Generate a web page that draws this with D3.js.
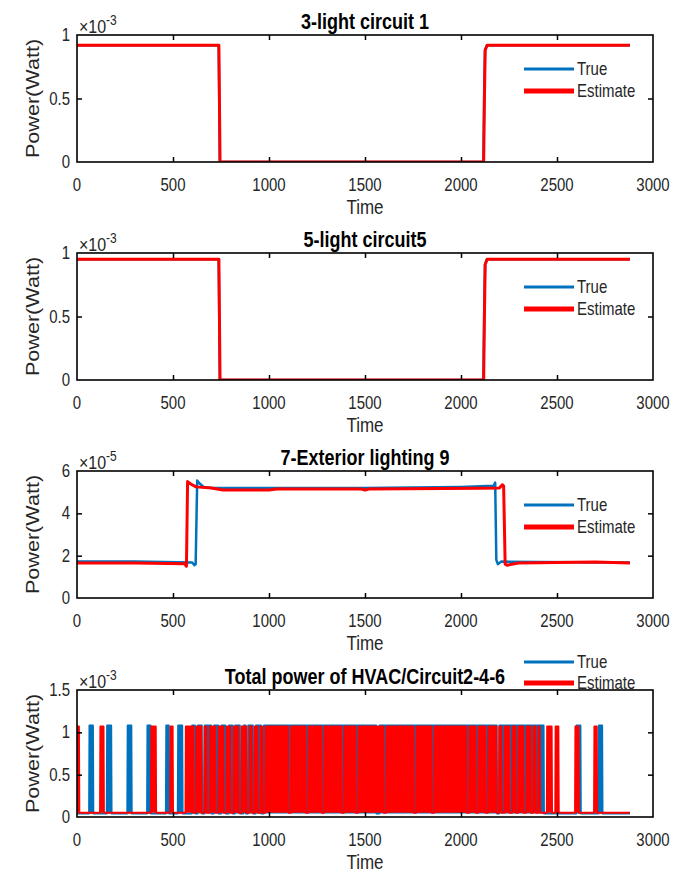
<!DOCTYPE html>
<html>
<head>
<meta charset="utf-8">
<script src="https://cdn.jsdelivr.net/npm/d3@7"></script>
<style>
body {margin:0; background:#fff;}
text {font-family:"Liberation Sans", Arial, sans-serif; fill:#262626;}
</style>
</head>
<body>
<div id="chart"></div>
<script>
// panel setup
var titles = ["3-light circuit 1", "5-light circuit5", "7-Exterior lighting 9", "Total power of HVAC/Circuit2-4-6"];
var exponents = ["-3", "-3", "-5", "-3"];
var yMax = [1, 1, 6, 1.5];
var yTicks = [[0, 0.5, 1], [0, 0.5, 1], [0, 2, 4, 6], [0, 0.5, 1, 1.5]];
var xTicks = [0, 500, 1000, 1500, 2000, 2500, 3000];
var legendNames = ["True", "Estimate"];

// 3-light circuit 1 (x1e-3)
var c1TrueT = [0, 400, 738, 744, 750, 1500, 2117, 2121, 2125, 2135, 2500, 2880];
var c1TrueV = [0.92, 0.92, 0.92, 0.0, 0.0, 0.0, 0.0, 0.55, 0.88, 0.92, 0.92, 0.92];
var c1EstT = [0, 400, 739, 745, 750, 1500, 2118, 2122, 2126, 2136, 2500, 2880];
var c1EstV = [0.92, 0.92, 0.92, 0.0, 0.0, 0.0, 0.0, 0.5, 0.88, 0.92, 0.92, 0.92];

// 5-light circuit5 (x1e-3)
var c5TrueT = [0, 400, 738, 744, 750, 1500, 2117, 2121, 2125, 2135, 2500, 2880];
var c5TrueV = [0.95, 0.95, 0.95, 0.0, 0.0, 0.0, 0.0, 0.55, 0.91, 0.95, 0.95, 0.95];
var c5EstT = [0, 400, 739, 745, 750, 1500, 2118, 2122, 2126, 2136, 2500, 2880];
var c5EstV = [0.95, 0.95, 0.95, 0.0, 0.0, 0.0, 0.0, 0.5, 0.91, 0.95, 0.95, 0.95];

// 7-Exterior lighting 9 (x1e-5)
var c9TrueT = [0, 300, 600, 612, 618, 626, 640, 660, 700, 1000, 1500, 2000, 2170, 2178, 2184, 2192, 2210, 2400, 2880];
var c9TrueV = [1.72, 1.72, 1.68, 1.55, 1.6, 5.55, 5.4, 5.25, 5.2, 5.2, 5.2, 5.25, 5.3, 5.45, 1.8, 1.6, 1.72, 1.7, 1.68];
var c9EstT = [0, 300, 560, 570, 576, 590, 620, 700, 760, 1000, 1040, 1480, 1500, 1520, 2100, 2200, 2215, 2222, 2230, 2240, 2300, 2700, 2880];
var c9EstV = [1.65, 1.65, 1.62, 1.5, 5.5, 5.4, 5.25, 5.2, 5.1, 5.1, 5.15, 5.15, 5.1, 5.15, 5.18, 5.2, 5.35, 5.3, 1.6, 1.55, 1.65, 1.7, 1.65];

// HVAC on-periods [start, end] (x1e-3)
var hvacTrueOn = [[63, 85], [155, 180], [262, 285], [365, 385], [463, 480], [525, 550], [598, 616], [628, 652],
  [664, 700], [712, 738], [750, 775], [790, 812], [822, 850], [866, 880], [890, 918], [930, 960], [972, 1560],
  [1574, 2188], [2198, 2432], [2600, 2624], [2716, 2737]];
var hvacEstOn = [[0, 12], [120, 140], [385, 412], [485, 500], [565, 606], [618, 648], [662, 676], [690, 722],
  [736, 764], [778, 800], [814, 842], [856, 884], [898, 912], [924, 942], [955, 968], [980, 1102], [1114, 1192],
  [1204, 1275], [1287, 1378], [1390, 1452], [1464, 1598], [1610, 1754], [1766, 1848], [1860, 2030], [2042, 2078],
  [2090, 2128], [2140, 2186], [2198, 2212], [2226, 2252], [2266, 2286], [2298, 2326], [2340, 2364], [2376, 2390],
  [2402, 2412], [2447, 2474], [2491, 2509], [2594, 2614], [2693, 2709]];
var hvacTrueLevels = [0.04, 1.08];
var hvacEstLevels = [0.05, 1.07];
var endTime = 2880;

var W = 675, H = 873;
var plotLeft = 77, plotRight = 653, plotH = 127;
var panelTops = [35, 253, 471, 690];
var blue = "#0072BD", red = "#FF0000";

function zip(t, v) {
    var out = [];
    for (var i = 0; i < t.length; i++) out.push([t[i], v[i]]);
    return out;
}

function pulses(iv, lv) {
    var base = lv[0], peak = lv[1], pts = [];
    if (iv[0][0] > 0) pts.push([0, base]);
    iv.forEach(function(d) {
	if (d[0] > 0) pts.push([d[0], base]);
	pts.push([d[0] > 0 ? d[0] + 2 : 0, peak]);
	pts.push([d[1] - 2, peak]);
	pts.push([d[1], base]);
    });
    pts.push([endTime, base]);
    return pts;
}

var panelSeries = [
    [zip(c1TrueT, c1TrueV), zip(c1EstT, c1EstV)],
    [zip(c5TrueT, c5TrueV), zip(c5EstT, c5EstV)],
    [zip(c9TrueT, c9TrueV), zip(c9EstT, c9EstV)],
    [pulses(hvacTrueOn, hvacTrueLevels), pulses(hvacEstOn, hvacEstLevels)]
];

var svg = d3.select("#chart").append("svg")
    .attr("width", W)
    .attr("height", H);

var x = d3.scaleLinear().domain([0, 3000]).range([plotLeft, plotRight]);

function label(g, px, py, str, size, anchor, weight) {
    return g.append("text")
	.attr("transform", "translate(" + px + "," + py + ") scale(1,1.2)")
	.attr("text-anchor", anchor)
	.style("font-size", size + "px")
	.style("font-weight", weight || "normal")
	.text(str);
}

function drawPanel(k) {
    var top = panelTops[k], bottom = top + plotH;
    var y = d3.scaleLinear().domain([0, yMax[k]]).range([bottom, top]);
    var g = svg.append("g").attr("class", "panel" + k);

    g.append("clipPath").attr("id", "clip" + k)
	.append("rect")
	.attr("x", plotLeft).attr("y", top - 2)
	.attr("width", plotRight - plotLeft).attr("height", plotH + 2);

    var line = d3.line().x(function(d) {return x(d[0]);}).y(function(d) {return y(d[1]);});
    var colors = [blue, red];
    var widths = k == 3 ? [2, 2] : [2.5, 3];

    panelSeries[k].forEach(function(s, i) {
	if (k == 3) {
	    var base = i == 0 ? hvacTrueLevels[0] : hvacEstLevels[0];
	    var area = d3.area().x(function(d) {return x(d[0]);})
		.y0(y(base)).y1(function(d) {return y(d[1]);});
	    g.append("path").datum(s)
		.attr("clip-path", "url(#clip" + k + ")")
		.attr("d", area)
		.attr("fill", colors[i]);
	}
	g.append("path").datum(s)
	    .attr("clip-path", "url(#clip" + k + ")")
	    .attr("d", line)
	    .attr("fill", "none")
	    .attr("stroke", colors[i])
	    .attr("stroke-width", widths[i])
	    .attr("stroke-linejoin", "round");
    });

    // inward ticks on all four sides
    var inner = xTicks.slice(1, -1);
    g.append("g").attr("transform", "translate(0," + bottom + ")")
	.call(d3.axisBottom(x).tickValues(inner).tickSize(-5).tickFormat(""));
    g.append("g").attr("transform", "translate(0," + top + ")")
	.call(d3.axisTop(x).tickValues(inner).tickSize(-5).tickFormat(""));
    var yin = yTicks[k].slice(1, -1);
    g.append("g").attr("transform", "translate(" + plotLeft + ",0)")
	.call(d3.axisLeft(y).tickValues(yin).tickSize(-5).tickFormat(""));
    g.append("g").attr("transform", "translate(" + plotRight + ",0)")
	.call(d3.axisRight(y).tickValues(yin).tickSize(-5).tickFormat(""));
    g.selectAll(".domain").remove();
    g.selectAll(".tick line").attr("stroke", "#000").attr("stroke-width", 1.5);

    g.append("rect")
	.attr("x", plotLeft).attr("y", top)
	.attr("width", plotRight - plotLeft).attr("height", plotH)
	.attr("fill", "none").attr("stroke", "#000").attr("stroke-width", 1.6);

    xTicks.forEach(function(t) {
	label(g, x(t), bottom + 29, t, 15, "middle");
    });
    yTicks[k].forEach(function(t) {
	label(g, plotLeft - 7, y(t) + 6, t, 15, "end");
    });

    // exponent
    var ex = g.append("text")
	.attr("transform", "translate(" + (plotLeft + 2) + "," + (top - 2) + ") scale(1,1.2)")
	.style("font-size", "16px");
    ex.append("tspan").text("\u00d710");
    ex.append("tspan").attr("dy", -7).style("font-size", "12px").text(exponents[k]);

    label(g, (plotLeft + plotRight) / 2, top - 6, titles[k], 18, "middle", "bold").style("fill", "#000");
    label(g, (plotLeft + plotRight) / 2, bottom + 52, "Time", 17, "middle");

    g.append("text")
	.attr("transform", "translate(39," + (top + plotH / 2) + ") rotate(-90) scale(1.2,1)")
	.attr("text-anchor", "middle")
	.style("font-size", "18px")
	.text("Power(Watt)");

    // legend
    var ly = k == 3 ? [top - 28, top - 7] : [top + 34, top + 56];
    var lw = [3, 5];
    legendNames.forEach(function(n, i) {
	g.append("line")
	    .attr("x1", 524).attr("x2", 574)
	    .attr("y1", ly[i]).attr("y2", ly[i])
	    .attr("stroke", colors[i]).attr("stroke-width", lw[i]);
	label(g, 577, ly[i] + 6, n, 15, "start");
    });
}

for (var k = 0; k < 4; k++) drawPanel(k);
</script>
</body>
</html>
